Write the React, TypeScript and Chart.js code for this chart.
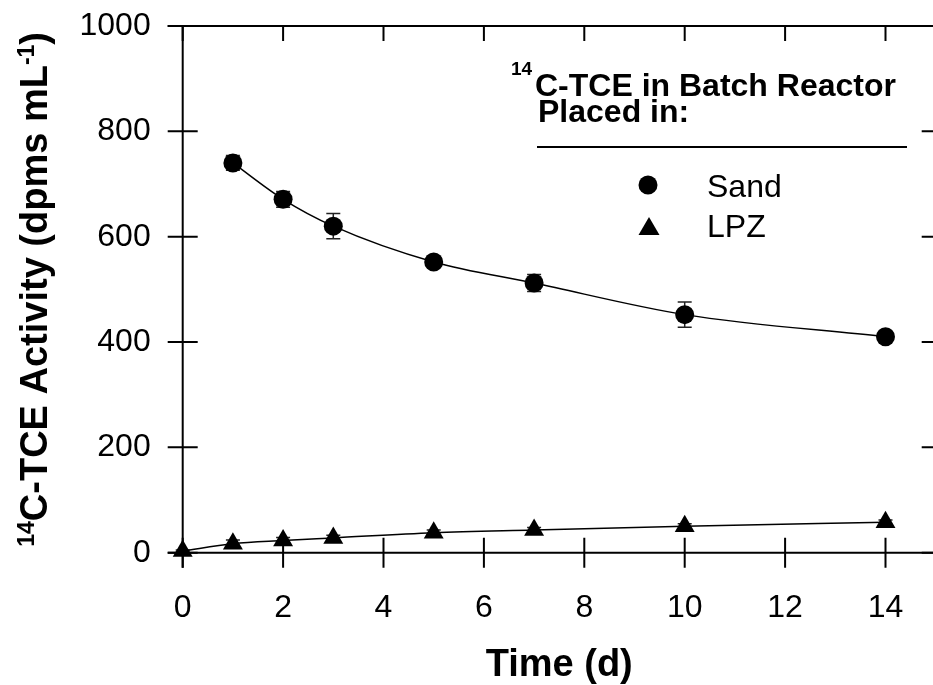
import React, { useEffect, useRef } from "react";
import { Chart, registerables } from "chart.js";

Chart.register(...registerables);

// ---- data ----
const sandDays = [1, 2, 3, 5, 7, 10, 14];
const sandActivity = [740, 671, 620, 552, 512, 452, 410];
const sandError = [14, 15, 24, 6, 16, 24, 6];

const lpzDays = [0, 1, 2, 3, 5, 7, 10, 14];
const lpzActivity = [3, 17, 23, 28, 38, 43, 50, 58];
const lpzError = [2, 7, 6, 5, 5, 5, 5, 4];

const xTicks = [0, 2, 4, 6, 8, 10, 12, 14];
const yTicks = [0, 200, 400, 600, 800, 1000];

const xTitle = "Time (d)";
const yTitleParts = [
  { t: "14", sup: true },
  { t: "C-TCE Activity (dpms mL", sup: false },
  { t: "-1", sup: true },
  { t: ")", sup: false },
];
const legendTitle1 = "C-TCE in Batch Reactor";
const legendTitleSup = "14";
const legendTitle2 = "Placed in:";
const seriesNames = ["Sand", "LPZ"];

const FONT = '"Liberation Sans", Arial, Helvetica, sans-serif';

const decorPlugin = {
  id: "decor",
  beforeDatasetsDraw(chart: any) {
    const { ctx, chartArea, scales } = chart;
    const x = scales.x;
    const y = scales.y;
    const { left, right, top, bottom } = chartArea;
    ctx.save();
    ctx.strokeStyle = "#000";
    ctx.lineWidth = 2;
    ctx.lineCap = "butt";
    // frame
    ctx.beginPath();
    ctx.moveTo(left - 15, top);
    ctx.lineTo(right, top);
    ctx.moveTo(left, top);
    ctx.lineTo(left, bottom + 15);
    ctx.moveTo(left - 15, bottom);
    ctx.lineTo(right, bottom);
    ctx.moveTo(right, top);
    ctx.lineTo(right, bottom);
    ctx.stroke();
    // ticks
    ctx.beginPath();
    xTicks.forEach((v) => {
      const px = x.getPixelForValue(v);
      ctx.moveTo(px, bottom - 15);
      ctx.lineTo(px, bottom + 15);
      ctx.moveTo(px, top);
      ctx.lineTo(px, top + 15);
    });
    yTicks.forEach((v) => {
      const py = y.getPixelForValue(v);
      ctx.moveTo(left - 15, py);
      ctx.lineTo(left + 15, py);
      ctx.moveTo(right - 14, py);
      ctx.lineTo(right, py);
    });
    ctx.stroke();

    // error bars
    ctx.strokeStyle = "#222";
    ctx.lineWidth = 1.5;
    chart.data.datasets.forEach((ds: any) => {
      const errs = ds.errorBars;
      if (!errs) return;
      ds.data.forEach((p: any, j: number) => {
        const px = x.getPixelForValue(p.x);
        const t = y.getPixelForValue(p.y + errs[j]);
        const b = y.getPixelForValue(p.y - errs[j]);
        ctx.beginPath();
        ctx.moveTo(px, t);
        ctx.lineTo(px, b);
        ctx.moveTo(px - 7, t);
        ctx.lineTo(px + 7, t);
        ctx.moveTo(px - 7, b);
        ctx.lineTo(px + 7, b);
        ctx.stroke();
      });
    });
    ctx.restore();
  },
  afterDraw(chart: any) {
    const { ctx, chartArea } = chart;
    const { left, right, top, bottom } = chartArea;
    ctx.save();
    ctx.fillStyle = "#000";
    ctx.strokeStyle = "#000";

    // x title
    ctx.font = `bold 38px ${FONT}`;
    ctx.textAlign = "center";
    ctx.textBaseline = "alphabetic";
    ctx.fillText(xTitle, (left + right) / 2, 676);

    // y title (rotated)
    ctx.save();
    ctx.translate(47, (top + bottom) / 2);
    ctx.rotate(-Math.PI / 2);
    const mainF = `bold 38px ${FONT}`;
    const supF = `bold 23px ${FONT}`;
    let total = 0;
    yTitleParts.forEach((p) => {
      ctx.font = p.sup ? supF : mainF;
      total += ctx.measureText(p.t).width;
    });
    let cx = -total / 2;
    ctx.textAlign = "left";
    yTitleParts.forEach((p) => {
      ctx.font = p.sup ? supF : mainF;
      ctx.fillText(p.t, cx, p.sup ? -13 : 0);
      cx += ctx.measureText(p.t).width;
    });
    ctx.restore();

    // legend
    ctx.textAlign = "left";
    ctx.font = `bold 19px ${FONT}`;
    ctx.fillText(legendTitleSup, 511, 75);
    ctx.font = `bold 32px ${FONT}`;
    ctx.fillText(legendTitle1, 535, 96);
    ctx.fillText(legendTitle2, 538, 122);
    ctx.lineWidth = 2;
    ctx.beginPath();
    ctx.moveTo(537, 147);
    ctx.lineTo(907, 147);
    ctx.stroke();

    ctx.beginPath();
    ctx.arc(648, 185, 9.5, 0, Math.PI * 2);
    ctx.fill();
    ctx.beginPath();
    ctx.moveTo(649, 217);
    ctx.lineTo(659.5, 235);
    ctx.lineTo(638.5, 235);
    ctx.closePath();
    ctx.fill();

    ctx.font = `32px ${FONT}`;
    ctx.fillText(seriesNames[0], 707, 197);
    ctx.fillText(seriesNames[1], 707, 237);
    ctx.restore();
  },
};

export default function App() {
  const ref = useRef<HTMLCanvasElement | null>(null);
  useEffect(() => {
    if (!ref.current) return;
    const chart = new Chart(ref.current, {
      type: "scatter",
      data: {
        datasets: [
          {
            label: seriesNames[0],
            data: sandDays.map((d, i) => ({ x: d, y: sandActivity[i] })),
            errorBars: sandError,
            showLine: true,
            cubicInterpolationMode: "monotone",
            borderColor: "#000",
            borderWidth: 1.5,
            backgroundColor: "#000",
            pointBackgroundColor: "#000",
            pointBorderColor: "#000",
            pointStyle: "circle",
            pointRadius: 9.5,
            pointBorderWidth: 0,
            clip: false,
          } as any,
          {
            label: seriesNames[1],
            data: lpzDays.map((d, i) => ({ x: d, y: lpzActivity[i] })),
            errorBars: lpzError,
            showLine: true,
            cubicInterpolationMode: "monotone",
            borderColor: "#000",
            borderWidth: 1.5,
            backgroundColor: "#000",
            pointBackgroundColor: "#000",
            pointBorderColor: "#000",
            pointStyle: "triangle",
            pointRadius: 11.5,
            pointBorderWidth: 0,
            clip: false,
          } as any,
        ],
      },
      options: {
        responsive: false,
        animation: false,
        layout: { padding: { left: 0, top: 26, right: 24.3, bottom: 0 } },
        plugins: { legend: { display: false }, tooltip: { enabled: false } },
        scales: {
          x: {
            type: "linear",
            min: 0,
            max: 15,
            afterBuildTicks: (s: any) => {
              s.ticks = xTicks.map((v) => ({ value: v }));
            },
            afterFit: (s: any) => {
              s.height = 132.3;
              s.paddingLeft = 0;
              s.paddingRight = 0;
            },
            grid: { display: false, drawTicks: false },
            border: { display: false },
            ticks: {
              font: { family: FONT, size: 32 },
              color: "#000",
              padding: 36,
              autoSkip: false,
              maxRotation: 0,
              callback: (v: any) => String(v),
            },
          },
          y: {
            type: "linear",
            min: 0,
            max: 1000,
            afterBuildTicks: (s: any) => {
              s.ticks = yTicks.map((v) => ({ value: v }));
            },
            afterFit: (s: any) => {
              s.width = 182.7;
              s.paddingTop = 0;
              s.paddingBottom = 0;
            },
            grid: { display: false, drawTicks: false },
            border: { display: false },
            ticks: {
              font: { family: FONT, size: 32 },
              color: "#000",
              padding: 32,
              autoSkip: false,
              callback: (v: any) => String(v),
            },
          },
        },
      },
      plugins: [decorPlugin],
    } as any);
    return () => chart.destroy();
  }, []);
  return (
    <div
      style={{
        position: "fixed",
        left: 0,
        top: 0,
        width: 933,
        height: 685,
        overflow: "hidden",
        background: "#fff",
      }}
    >
      <canvas ref={ref} width={960} height={685} style={{ display: "block", width: 960, height: 685 }} />
    </div>
  );
}
